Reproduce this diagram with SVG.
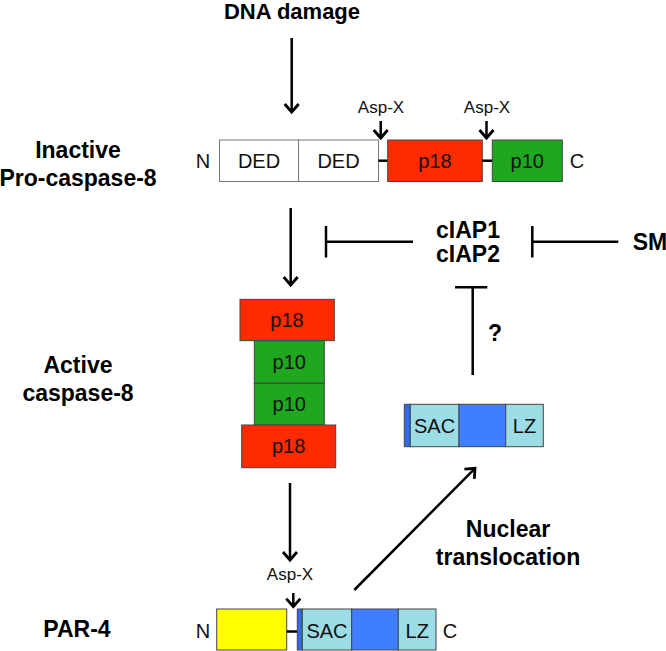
<svg xmlns="http://www.w3.org/2000/svg" width="666" height="651" viewBox="0 0 666 651">
<style>
.lbl{font-family:"Liberation Sans",Arial,sans-serif;font-weight:bold;font-size:23px;fill:#000;text-anchor:middle}
.t{font-family:"Liberation Sans",Arial,sans-serif;font-size:20px;fill:#111;text-anchor:middle}
.asp{font-family:"Liberation Sans",Arial,sans-serif;font-size:17px;fill:#111;text-anchor:middle}
.ln{stroke:#000;stroke-width:2.5;fill:none}
.box{stroke:#444;stroke-width:1}
.red{fill:#FF2A00}
.green{fill:#1FA71F}
.white{fill:#fff;stroke:#777;stroke-width:1}
.yellow{fill:#FFFF00}
.cyan{fill:#9CDCE4}
.blue{fill:#3F7FFF}
.dblue{fill:#2F6AE8}
</style>
<defs>
<marker id="ah" markerUnits="userSpaceOnUse" markerWidth="20" markerHeight="20" viewBox="-10 -10 20 20" refX="0" refY="0" orient="auto">
<path d="M-8,-7 L0,0 L-8,7" fill="none" stroke="#000" stroke-width="2.8"/>
</marker>
</defs>
<rect width="666" height="651" fill="#fff"/>

<g id="labels">
<text class="lbl" x="292" y="19" style="font-size:22px">DNA damage</text>
<text class="lbl" x="78" y="158">Inactive</text>
<text class="lbl" x="78" y="186">Pro-caspase-8</text>
<text class="lbl" x="78" y="373">Active</text>
<text class="lbl" x="78" y="401">caspase-8</text>
<text class="lbl" x="77" y="637">PAR-4</text>
<text class="lbl" x="508" y="537">Nuclear</text>
<text class="lbl" x="508" y="565">translocation</text>
</g>

<g id="cIAP">
<text class="lbl" x="468" y="238">cIAP1</text>
<text class="lbl" x="468" y="262">cIAP2</text>
</g>
<g id="SM"><text class="lbl" x="650" y="250">SM</text></g>
<g id="q"><text class="lbl" x="495" y="341">?</text></g>

<g id="procaspase8">
<text class="t" x="203" y="168">N</text>
<rect class="white" x="219.5" y="140" width="79" height="41.5"/>
<rect class="white" x="298.5" y="140" width="80" height="41.5"/>
<text class="t" x="259" y="168">DED</text>
<text class="t" x="338.5" y="168">DED</text>
<line class="ln" x1="378.5" y1="160.7" x2="387.7" y2="160.7"/>
<rect class="box red" x="387.7" y="140" width="94.6" height="41.5"/>
<text class="t" x="435" y="168">p18</text>
<line class="ln" x1="482.3" y1="160.7" x2="492.3" y2="160.7"/>
<rect class="box green" x="492.3" y="140" width="70" height="41.5"/>
<text class="t" x="527.3" y="168">p10</text>
<text class="t" x="577" y="168">C</text>
<text class="asp" x="381" y="113">Asp-X</text>
<text class="asp" x="487" y="113">Asp-X</text>
</g>

<g id="caspase8">
<rect class="box red" x="240" y="299.3" width="94.3" height="41.4"/>
<text class="t" x="287" y="327">p18</text>
<rect class="box green" x="254.3" y="340.7" width="70" height="42.6"/>
<text class="t" x="289.3" y="369">p10</text>
<rect class="box green" x="254.3" y="383.3" width="70" height="41.7"/>
<text class="t" x="289.3" y="411">p10</text>
<rect class="box red" x="241.7" y="425" width="94" height="42.7"/>
<text class="t" x="288.7" y="453">p18</text>
</g>

<g id="par4nuclear">
<rect class="box dblue" x="404.3" y="404.3" width="6" height="42.4"/>
<rect class="box cyan" x="410.3" y="404.3" width="48.7" height="42.4"/>
<rect class="box blue" x="459" y="404.3" width="46.7" height="42.4"/>
<rect class="box cyan" x="505.7" y="404.3" width="37.6" height="42.4"/>
<text class="t" x="434.6" y="433">SAC</text>
<text class="t" x="524.5" y="433">LZ</text>
</g>

<g id="par4">
<text class="t" x="203" y="638">N</text>
<rect class="box yellow" x="216.7" y="609" width="70" height="41"/>
<line class="ln" x1="286.7" y1="631.5" x2="297.3" y2="631.5"/>
<rect class="box dblue" x="297.3" y="609" width="5" height="41"/>
<rect class="box cyan" x="302.3" y="609" width="49.4" height="41"/>
<rect class="box blue" x="351.7" y="609" width="46.6" height="41"/>
<rect class="box cyan" x="398.3" y="609" width="37.7" height="41"/>
<text class="t" x="327" y="638">SAC</text>
<text class="t" x="417.2" y="638">LZ</text>
<text class="t" x="450" y="638">C</text>
<text class="asp" x="290" y="580">Asp-X</text>
</g>

<g id="connectors">
<line class="ln" x1="291.7" y1="38" x2="291.7" y2="112" marker-end="url(#ah)"/>
<line class="ln" x1="380.7" y1="121" x2="380.7" y2="138" marker-end="url(#ah)"/>
<line class="ln" x1="486.5" y1="121" x2="486.5" y2="138" marker-end="url(#ah)"/>
<line class="ln" x1="290.7" y1="208" x2="290.7" y2="285" marker-end="url(#ah)"/>
<line class="ln" x1="290" y1="483" x2="290" y2="560" marker-end="url(#ah)"/>
<line class="ln" x1="293.3" y1="593" x2="293.3" y2="606.7" marker-end="url(#ah)"/>
<line class="ln" x1="354.3" y1="590" x2="475" y2="468.3" marker-end="url(#ah)"/>
<line class="ln" x1="326" y1="241.7" x2="413" y2="241.7"/>
<line class="ln" x1="326" y1="226" x2="326" y2="257.5"/>
<line class="ln" x1="532.3" y1="241.7" x2="618.3" y2="241.7"/>
<line class="ln" x1="532.3" y1="226" x2="532.3" y2="257.5"/>
<line class="ln" x1="472.7" y1="287.3" x2="472.7" y2="375"/>
<line class="ln" x1="455" y1="287.3" x2="487.3" y2="287.3"/>
</g>
</svg>
